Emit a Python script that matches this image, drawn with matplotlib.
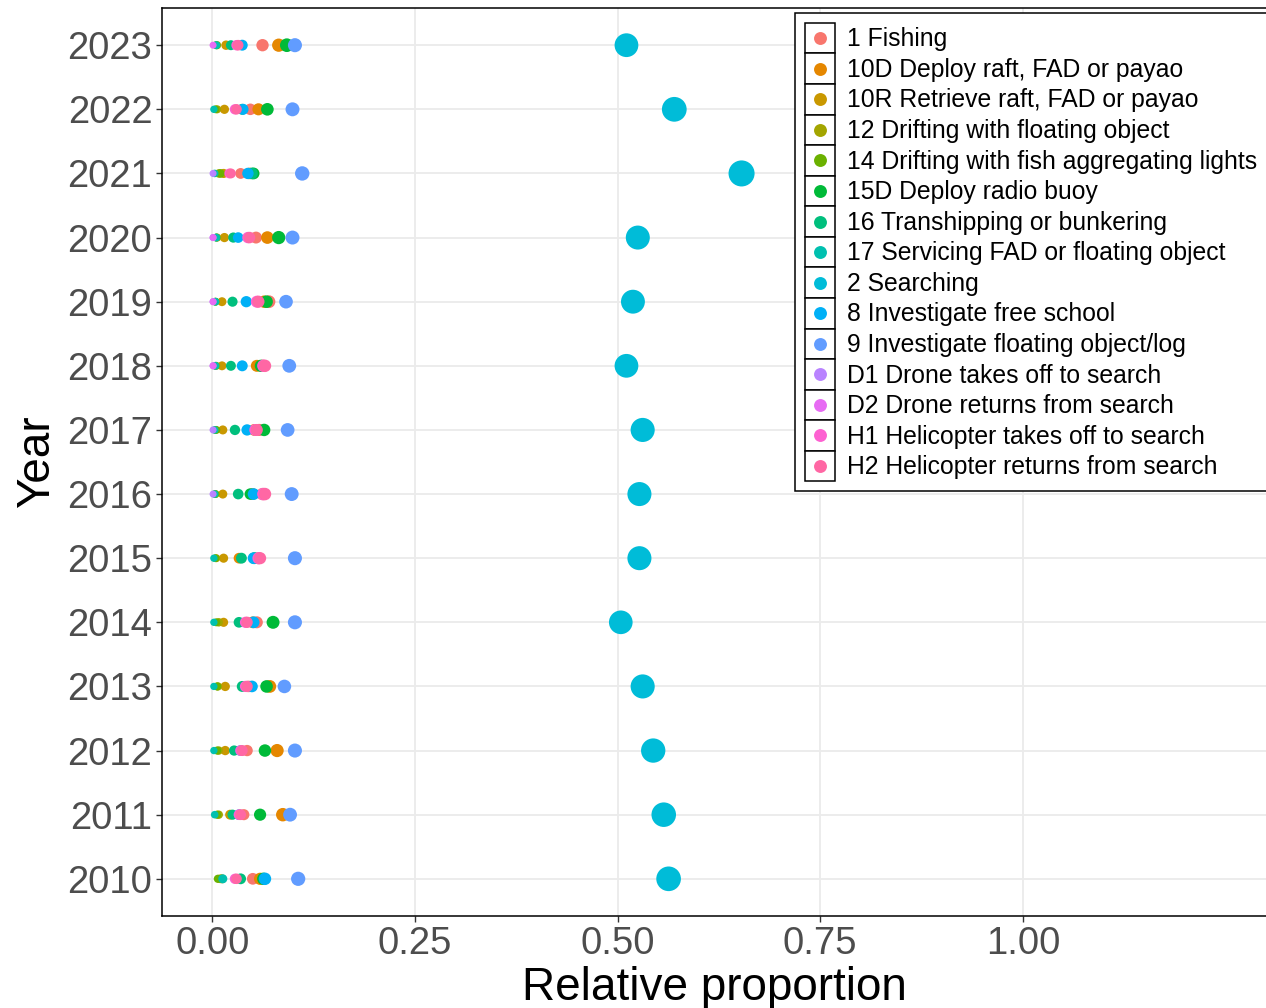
import numpy as np
import matplotlib
matplotlib.use("Agg")
import matplotlib.pyplot as plt
from matplotlib.legend_handler import HandlerBase
from matplotlib.patches import Rectangle
from matplotlib.lines import Line2D

plt.rcParams['font.family'] = ['Liberation Sans', 'DejaVu Sans']

years = [2010, 2011, 2012, 2013, 2014, 2015, 2016, 2017, 2018, 2019, 2020, 2021, 2022, 2023]

categories = [
    "1 Fishing",
    "10D Deploy raft, FAD or payao",
    "10R Retrieve raft, FAD or payao",
    "12 Drifting with floating object",
    "14 Drifting with fish aggregating lights",
    "15D Deploy radio buoy",
    "16 Transhipping or bunkering",
    "17 Servicing FAD or floating object",
    "2 Searching",
    "8 Investigate free school",
    "9 Investigate floating object/log",
    "D1 Drone takes off to search",
    "D2 Drone returns from search",
    "H1 Helicopter takes off to search",
    "H2 Helicopter returns from search",
]

colors = ["#F8766D", "#E58700", "#C99800", "#A3A500", "#6BB100", "#00BA38", "#00BF7D",
          "#00C0AF", "#00BCD8", "#00B0F6", "#619CFF", "#B983FF", "#E76BF3", "#FD61D1", "#FF67A4"]

nan = np.nan
#                 2010   2011   2012   2013   2014   2015   2016   2017   2018   2019   2020   2021   2022   2023
fishing      = [0.050, 0.039, 0.043, 0.045, 0.055, 0.057, 0.062, 0.058, 0.062, 0.070, 0.054, 0.035, 0.047, 0.062]
deploy_fad   = [0.059, 0.087, 0.080, 0.071, 0.050, 0.033, 0.050, 0.052, 0.055, 0.064, 0.068, 0.046, 0.057, 0.082]
retrieve_fad = [0.012, 0.022, 0.016, 0.016, 0.014, 0.014, 0.013, 0.013, 0.012, 0.012, 0.015, 0.014, 0.015, 0.017]
drift_float  = [0.010, 0.008, 0.008, 0.007, 0.008, 0.005, 0.004, 0.004, 0.005, 0.004, 0.006, 0.008, 0.006, 0.006]
drift_lights = [0.007, 0.006, 0.006, 0.006, 0.005, 0.004, 0.004, 0.005, 0.004, 0.004, 0.005, 0.010, 0.004, 0.005]
radio_buoy   = [0.063, 0.059, 0.065, 0.067, 0.075, 0.052, 0.047, 0.064, 0.060, 0.067, 0.082, 0.051, 0.068, 0.092]
tranship     = [0.035, 0.025, 0.027, 0.037, 0.033, 0.036, 0.032, 0.028, 0.023, 0.025, 0.026, 0.049, 0.037, 0.023]
servicing    = [0.013, 0.003, 0.002, 0.002, 0.002, 0.002, 0.003, 0.003, 0.004, 0.004, 0.005, 0.003, 0.002, 0.005]
searching    = [0.563, 0.557, 0.544, 0.531, 0.504, 0.527, 0.527, 0.531, 0.511, 0.519, 0.525, 0.653, 0.570, 0.511]
free_school  = [0.065, 0.033, 0.035, 0.049, 0.051, 0.051, 0.051, 0.043, 0.037, 0.042, 0.032, 0.044, 0.038, 0.037]
float_log    = [0.106, 0.096, 0.102, 0.089, 0.102, 0.102, 0.098, 0.093, 0.095, 0.091, 0.099, 0.111, 0.099, 0.102]
drone_off    = [nan, nan, nan, nan, nan, nan, 0.001, 0.001, 0.001, 0.001, 0.001, 0.001, nan, nan]
drone_ret    = [nan, nan, nan, nan, nan, nan, nan, nan, 0.001, 0.001, 0.001, nan, nan, 0.001]
heli_off     = [0.028, 0.033, 0.035, 0.041, 0.041, 0.057, 0.063, 0.053, 0.063, 0.055, 0.044, 0.021, 0.028, 0.030]
heli_ret     = [0.030, 0.035, 0.037, 0.043, 0.043, 0.059, 0.065, 0.055, 0.065, 0.057, 0.046, 0.023, 0.030, 0.032]

series = [fishing, deploy_fad, retrieve_fad, drift_float, drift_lights, radio_buoy, tranship,
          servicing, searching, free_school, float_log, drone_off, drone_ret, heli_off, heli_ret]

W, H, DPI = 1266, 1008, 100
fig = plt.figure(figsize=(W / DPI, H / DPI), dpi=DPI)
ax = fig.add_axes([162 / W, 1 - 916 / H, (1266 - 162) / W, (916 - 8) / H])


def size_of(v):
    d_px = 6.25 + 24.5 * np.sqrt(np.asarray(v, dtype=float))
    d_pt = d_px * 72 / DPI
    return d_pt ** 2


for cat, vals, col in zip(categories, series, colors):
    vals = np.asarray(vals, dtype=float)
    ax.scatter(vals, years, s=size_of(vals), color=col, edgecolors='none', zorder=3, label=cat)

ax.set_xlim(-0.062, 1.30)
ax.set_ylim(2009.42, 2023.58)
ax.set_xticks([0.0, 0.25, 0.5, 0.75, 1.0])
ax.set_xticklabels(["0.00", "0.25", "0.50", "0.75", "1.00"])
ax.set_yticks(years)
ax.set_yticklabels([str(y) for y in years])

ax.grid(True, color="#EBEBEB", linewidth=1.3, zorder=0)
ax.set_axisbelow(True)
for side in ["left", "bottom", "top"]:
    ax.spines[side].set_color("black")
    ax.spines[side].set_linewidth(1.1)
ax.spines["right"].set_visible(False)

ax.tick_params(axis='both', labelsize=27.5, labelcolor="#4D4D4D", color="#333333",
               length=4, width=1.0, pad=3)
ax.set_xlabel("Relative proportion", fontsize=33, color="black", labelpad=3)
ax.set_ylabel("Year", fontsize=33, color="black", labelpad=6)


class KeyHandler(HandlerBase):
    def create_artists(self, legend, orig_handle, xdescent, ydescent, width, height, fontsize, trans):
        rect = Rectangle((-xdescent, -ydescent), width, height, facecolor='white',
                         edgecolor='black', linewidth=1.1, transform=trans)
        dot = Line2D([-xdescent + width / 2], [-ydescent + height / 2], marker='o', linestyle='none',
                     markersize=9.3, markerfacecolor=orig_handle.get_facecolor()[0],
                     markeredgecolor='none', transform=trans)
        return [rect, dot]


handles, labels = ax.get_legend_handles_labels()
leg = ax.legend(handles, labels, loc='upper left', bbox_to_anchor=(795 / W, 1 - 13 / H),
                bbox_transform=fig.transFigure, fontsize=17.8, frameon=True, fancybox=False,
                edgecolor='black', framealpha=1, handler_map={type(handles[0]): KeyHandler()},
                handlelength=1.236, handleheight=1.525, labelspacing=0.0, handletextpad=0.45,
                borderpad=0.4, borderaxespad=0.0)
leg.get_frame().set_linewidth(1.1)
leg.set_zorder(5)

fig.savefig("out.png", dpi=DPI)
